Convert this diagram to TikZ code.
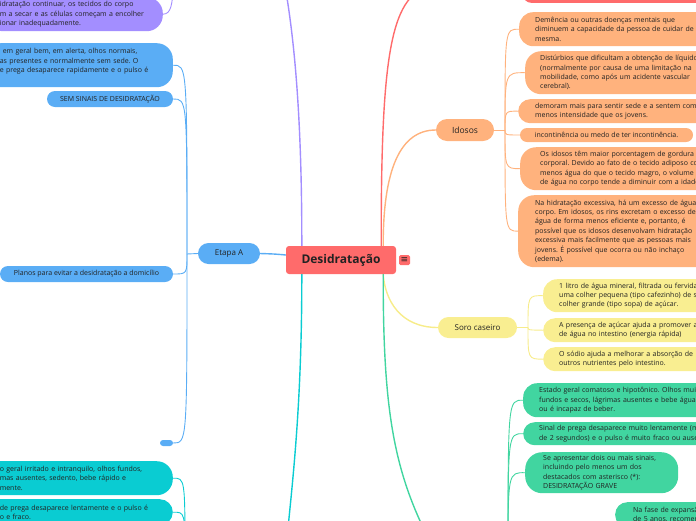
\documentclass[tikz,border=0pt]{standalone}
\usepackage{fontspec}
\setmainfont{Open Sans}
\newfontfamily\symfont{DejaVu Sans}
\definecolor{cred}{HTML}{FF6B6B}
\definecolor{cblue}{HTML}{5AADF5}
\definecolor{cpurple}{HTML}{A38EFF}
\definecolor{corange}{HTML}{FFB27D}
\definecolor{cyellow}{HTML}{F9EE91}
\definecolor{lyellow}{HTML}{F7EC8A}
\definecolor{cgreen}{HTML}{41D5A0}
\definecolor{ccyan}{HTML}{0ACCD2}
\definecolor{txt}{HTML}{222222}
\pgfdeclarelayer{bg}
\pgfsetlayers{bg,main}
\frenchspacing
\begin{document}
\begin{tikzpicture}[x=1pt,y=-1pt,
  card/.style={inner ysep=0pt, align=left, text=txt, font=\fontsize{7}{9.4}\selectfont, rounded corners=14pt},
  pill/.style={inner sep=0pt, text=txt, align=center},
  mainline/.style={line width=1.4pt},
  subline/.style={line width=0.9pt},
]
\useasboundingbox (0,0) rectangle (696,520);
\clip (0,0) rectangle (696,520);

% central
\node[pill, fill=cred, minimum width=110pt, minimum height=28pt, rounded corners=3pt, font=\fontsize{12}{14}\selectfont\bfseries] (root) at (341,260) {Desidratação};
\node[pill, fill=cred, minimum width=11pt, minimum height=10pt, rounded corners=1.5pt, font=\symfont\fontsize{9}{9}\selectfont] (menu) at (404.5,260) {≡};

% red top node
\node[fill=cred, minimum width=220pt, minimum height=30pt, rounded corners=8pt, anchor=south west, inner sep=0pt] (redtop) at (523,3) {};

% blue
\node[pill, fill=cblue, minimum width=62pt, minimum height=21pt, rounded corners=10.5pt, font=\fontsize{8}{10}\selectfont] (etapa) at (229,253.5) {Etapa A};
\node[card, fill=cblue, anchor=north east, text width=158pt, inner xsep=15pt, minimum height=44pt, rounded corners=16pt] (bsig) at (173,43) {\hspace*{3pt}em geral bem, em alerta, olhos normais,\\as presentes e normalmente sem sede. O\\e prega desaparece rapidamente e o pulso é\\\mbox{}};
\node[pill, fill=cblue, minimum width=126pt, minimum height=16pt, rounded corners=8pt, font=\fontsize{7}{9}\selectfont] (sem) at (110,99) {SEM SINAIS DE DESIDRATAÇÃO};
\node[pill, fill=cblue, minimum width=173pt, minimum height=16pt, rounded corners=8pt, font=\fontsize{7}{9}\selectfont] (planos) at (86.5,274) {Planos para evitar a desidratação a domicílio};
\node[pill, fill=cblue, minimum width=13pt, minimum height=6pt, rounded corners=3pt] (bsmall) at (166.5,443) {};

% purple
\node[card, fill=cpurple, anchor=north east, text width=150pt, inner xsep=13pt, minimum height=34pt, rounded corners=16pt] (pur) at (163,-3) {idratação continuar, os tecidos do corpo\\m a secar e as células começam a encolher\\ionar inadequadamente.};

% cyan
\node[card, fill=ccyan, anchor=north east, text width=155pt, inner xsep=18pt, minimum height=34pt, rounded corners=16pt] (cy1) at (173,461) {o geral irritado e intranquilo, olhos fundos,\\mas ausentes, sedento, bebe rápido e\\mente.};
\node[card, fill=ccyan, anchor=north east, text width=157pt, inner xsep=16pt, minimum height=26pt, rounded corners=13pt] (cy2) at (173,499) {de prega desaparece lentamente e o pulso é\\o e fraco.};

% orange
\node[pill, fill=corange, minimum width=58pt, minimum height=22pt, rounded corners=11pt, font=\fontsize{8.5}{10}\selectfont] (idosos) at (465,130) {Idosos};
\node[card, fill=corange, anchor=north west, text width=200pt, inner xsep=16pt, minimum height=34pt] (o1) at (519,12) {Demência ou outras doenças mentais que\\diminuem a capacidade da pessoa de cuidar de si\\mesma.};
\node[card, fill=corange, anchor=north west, text width=200pt, inner xsep=15pt, minimum height=43pt, rounded corners=16pt] (o2) at (525,51) {Distúrbios que dificultam a obtenção de líquidos\\(normalmente por causa de uma limitação na\\mobilidade, como após um acidente vascular\\cerebral).};
\node[card, fill=corange, anchor=north west, text width=200pt, inner xsep=17pt, minimum height=24pt, rounded corners=12pt] (o3) at (518,99) {demoram mais para sentir sede e a sentem com\\menos intensidade que os jovens.};
\node[pill, fill=corange, minimum width=173pt, minimum height=14pt, rounded corners=7pt, font=\fontsize{7}{9}\selectfont] (o4) at (606.5,135) {incontinência ou medo de ter incontinência.};
\node[card, fill=corange, anchor=north west, text width=200pt, inner xsep=20pt, minimum height=43pt, rounded corners=16pt] (o5) at (520,147) {Os idosos têm maior porcentagem de gordura\\corporal. Devido ao fato de o tecido adiposo conter\\menos água do que o tecido magro, o volume\\de água no corpo tende a diminuir com a idade.};
\node[card, fill=corange, anchor=north west, text width=200pt, inner xsep=17pt, minimum height=72pt, rounded corners=16pt] (o6) at (518,195) {Na hidratação excessiva, há um excesso de água no\\corpo. Em idosos, os rins excretam o excesso de\\água de forma menos eficiente e, portanto, é\\possível que os idosos desenvolvam hidratação\\excessiva mais facilmente que as pessoas mais\\jovens. É possível que ocorra ou não inchaço\\(edema).};

% yellow
\node[pill, fill=cyellow, minimum width=79pt, minimum height=21pt, rounded corners=10.5pt, font=\fontsize{8}{10}\selectfont] (soro) at (477.5,327.5) {Soro caseiro};
\node[card, fill=cyellow, anchor=north west, text width=200pt, inner xsep=16pt, minimum height=33pt] (y1) at (543,279) {1 litro de água mineral, filtrada ou fervida,\\uma colher pequena (tipo cafezinho) de sal e\\colher grande (tipo sopa) de açúcar.};
\node[card, fill=cyellow, anchor=north west, text width=200pt, inner xsep=16pt, minimum height=24pt, rounded corners=12pt] (y2) at (543,318) {A presença de açúcar ajuda a promover a absorção\\de água no intestino (energia rápida)};
\node[card, fill=cyellow, anchor=north west, text width=200pt, inner xsep=16pt, minimum height=24pt, rounded corners=12pt] (y3) at (543,347) {O sódio ajuda a melhorar a absorção de\\outros nutrientes pelo intestino.};

% green
\node[card, fill=cgreen, anchor=north west, text width=200pt, inner xsep=16pt, minimum height=34pt] (g1) at (523,383) {Estado geral comatoso e hipotônico. Olhos muito\\fundos e secos, lágrimas ausentes e bebe água mal\\ou é incapaz de beber.};
\node[card, fill=cgreen, anchor=north west, text width=200pt, inner xsep=16pt, minimum height=23pt, rounded corners=11.5pt] (g2) at (523,422) {Sinal de prega desaparece muito lentamente (mais\\de 2 segundos) e o pulso é muito fraco ou ausente};
\node[card, fill=cgreen, anchor=north west, text width=117pt, inner xsep=18pt, minimum height=41pt, rounded corners=17pt] (g3) at (525,452) {Se apresentar dois ou mais sinais,\\incluindo pelo menos um dos\\destacados com asterisco (*):\\DESIDRATAÇÃO GRAVE};
\node[card, fill=cgreen, anchor=north west, text width=150pt, inner xsep=18pt, minimum height=25pt, rounded corners=12pt] (g4) at (615,502) {Na fase de expansão\\de 5 anos, recomenda};

% hubs
\coordinate (bhub) at (187,254);
\coordinate (ohub) at (505,130);
\coordinate (yhub) at (528,327.5);
\coordinate (ghub) at (508,560);
\coordinate (chub) at (185,560);
\coordinate (purtop) at (282,-30);
\coordinate (redend) at (440,-16);
\coordinate (greenend) at (440,560);
\coordinate (cyanend) at (285,560);
\coordinate (purup) at (173,-20);

\begin{pgfonlayer}{bg}
% main branches
\draw[mainline, cpurple] ([xshift=16pt]root.north west) .. controls (302,100) and (292,20) .. (purtop);
\draw[mainline, cred] ([xshift=-15pt]root.north east) .. controls (381,40) and (392,-12) .. (redend);
\draw[mainline, corange] ([xshift=-13pt]root.north east) .. controls (383,170) and (400,130) .. (idosos.west);
\draw[mainline, lyellow] ([xshift=-13pt]root.south east) .. controls (385,300) and (400,327.5) .. (soro.west);
\draw[mainline, cgreen] ([xshift=-13pt]root.south east) .. controls (383,420) and (395,480) .. (greenend);
\draw[mainline, ccyan] ([xshift=16pt]root.south west) .. controls (302,420) and (290,500) .. (cyanend);
\draw[mainline, cblue] (etapa.east) .. controls (275,254) .. ([yshift=5pt]root.west);

% blue children
\draw[subline, cblue] (etapa.west) -- (bhub);
\draw[subline, cblue] (bhub) .. controls (187,65) .. (bsig.east);
\draw[subline, cblue] (bhub) .. controls (187,99) .. (sem.east);
\draw[subline, cblue] (bhub) .. controls (187,274) .. (planos.east);
\draw[subline, cblue] (bhub) .. controls (187,443) .. (bsmall.east);

% purple child
\draw[subline, cpurple] (pur.east) .. controls (171,14) and (173,5) .. (purup);

% cyan children
\draw[subline, ccyan] (chub) .. controls (185,478) .. (cy1.east);
\draw[subline, ccyan] (chub) .. controls (185,512) .. (cy2.east);

% orange children
\draw[subline, corange] (idosos.east) -- (ohub);
\draw[subline, corange] (ohub) .. controls (505,29) .. (o1.west);
\draw[subline, corange] (ohub) .. controls (505,72.5) .. (o2.west);
\draw[subline, corange] (ohub) .. controls (505,111) .. (o3.west);
\draw[subline, corange] (ohub) .. controls (505,135) .. (o4.west);
\draw[subline, corange] (ohub) .. controls (505,168.5) .. (o5.west);
\draw[subline, corange] (ohub) .. controls (505,231) .. (o6.west);

% yellow children
\draw[subline, lyellow] (soro.east) -- (yhub);
\draw[subline, lyellow] (yhub) .. controls (528,295.5) .. (y1.west);
\draw[subline, lyellow] (yhub) .. controls (528,330) .. (y2.west);
\draw[subline, lyellow] (yhub) .. controls (528,359) .. (y3.west);

% green children
\draw[subline, cgreen] (ghub) .. controls (508,400) .. (g1.west);
\draw[subline, cgreen] (ghub) .. controls (508,433.5) .. (g2.west);
\draw[subline, cgreen] (ghub) .. controls (508,472.5) .. (g3.west);
\end{pgfonlayer}
\end{tikzpicture}
\end{document}
